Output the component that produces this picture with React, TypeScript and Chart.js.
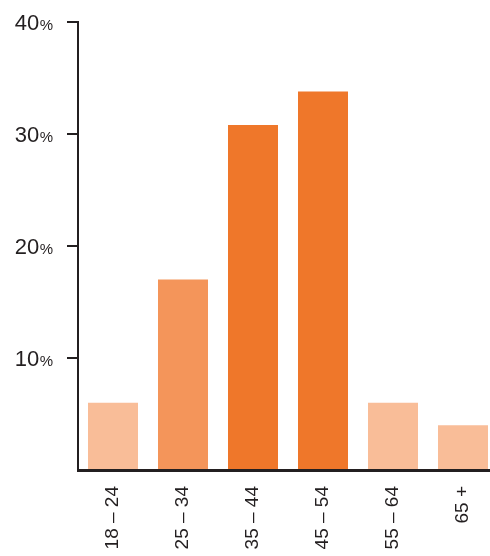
import React, { useEffect, useRef } from "react";
import { Chart, registerables } from "chart.js";

Chart.register(...registerables);

const categories = ["18 – 24", "25 – 34", "35 – 44", "45 – 54", "55 – 64", "65 +"];
const shares = [6, 17, 30.8, 33.8, 6, 4];
const yTickValues = [10, 20, 30, 40];

const LIGHT = "#F9BD98";
const MID = "#F4955A";
const DARK = "#EF772A";
const barColors = [LIGHT, MID, DARK, DARK, LIGHT, LIGHT];
const INK = "#231F20";

const yLabelPlugin = {
  id: "yLabelPlugin",
  afterDraw(chart: any) {
    const { ctx } = chart;
    const y = chart.scales.y;
    ctx.save();
    ctx.fillStyle = INK;
    ctx.textBaseline = "alphabetic";
    ctx.textAlign = "right";
    for (const v of yTickValues) {
      const py = y.getPixelForValue(v);
      ctx.font = "15px 'Liberation Sans', Arial, sans-serif";
      const pw = ctx.measureText("%").width;
      ctx.fillText("%", 53, py + 7.5);
      ctx.font = "22px 'Liberation Sans', Arial, sans-serif";
      ctx.fillText(String(v), 53 - pw - 0.5, py + 7.5);
    }
    ctx.restore();
  },
};

export default function App() {
  const ref = useRef<HTMLCanvasElement | null>(null);
  useEffect(() => {
    if (!ref.current) return;
    const chart = new Chart(ref.current, {
      type: "bar",
      data: {
        labels: categories,
        datasets: [
          {
            data: shares,
            backgroundColor: barColors,
            borderWidth: 0,
            barPercentage: 50 / 70,
            categoryPercentage: 1,
          },
        ],
      },
      options: {
        animation: false,
        responsive: false,
        maintainAspectRatio: false,
        devicePixelRatio: 1,
        layout: { padding: { top: 22, right: 12, left: 0, bottom: 0 } },
        plugins: { legend: { display: false }, tooltip: { enabled: false } },
        scales: {
          x: {
            grid: { display: false, drawTicks: false },
            border: { display: true, color: INK, width: 3 },
            ticks: {
              minRotation: 90,
              maxRotation: 90,
              autoSkip: false,
              padding: 16,
              color: INK,
              font: { family: "'Liberation Sans', Arial, sans-serif", size: 19 },
            },
            afterFit(scale: any) {
              scale.height = 86;
            },
          },
          y: {
            min: 0,
            max: 40,
            ticks: { stepSize: 10, display: false },
            grid: {
              drawOnChartArea: false,
              drawTicks: true,
              tickLength: 11,
              lineWidth: 2,
              color: (c: any) => (c.tick && c.tick.value === 0 ? "rgba(0,0,0,0)" : INK),
            },
            border: { display: true, color: INK, width: 2 },
            afterFit(scale: any) {
              scale.width = 78;
            },
          },
        },
      },
      plugins: [yLabelPlugin],
    });
    return () => chart.destroy();
  }, []);
  return (
    <div
      style={{
        position: "absolute",
        left: 0,
        top: 0,
        width: 490,
        height: 556,
        overflow: "hidden",
        background: "#fff",
      }}
    >
      <canvas ref={ref} width={510} height={556} style={{ display: "block" }} />
    </div>
  );
}
